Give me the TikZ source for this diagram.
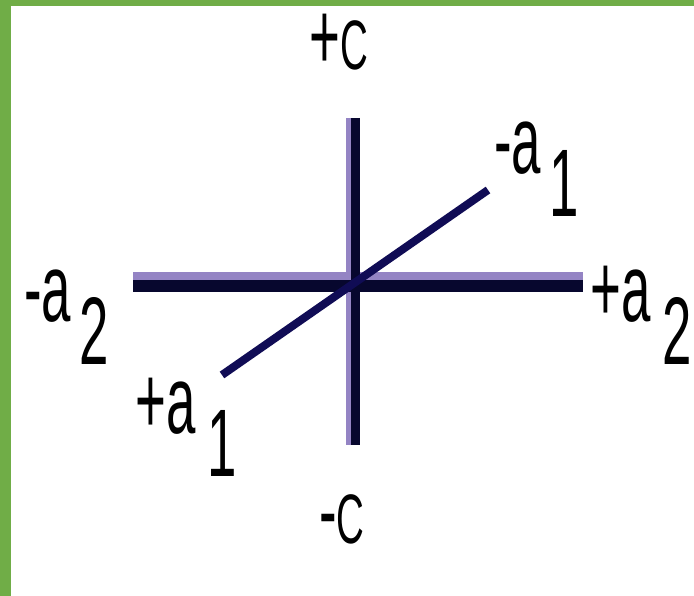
\documentclass[tikz,border=0pt]{standalone}
\usepackage{fontspec}
\newfontfamily\lblfont[FakeStretch=0.55]{Liberation Sans}
\definecolor{frame}{HTML}{70AD47}
\definecolor{axis}{HTML}{07072E}
\definecolor{diag}{HTML}{100C55}
\definecolor{halo}{HTML}{9484C4}
\newcommand{\sub}[2][8pt]{\hspace{#1}\raisebox{-43pt}{#2}}
\newcommand{\capc}{{\fontsize{70}{70}\selectfont C}}

\begin{document}
\begin{tikzpicture}[x=1pt,y=-1pt,
 axisline/.style={line width=12pt,axis},
 vertline/.style={line width=9pt,axis},
 diagline/.style={line width=8pt,diag},
 haloline/.style={halo},
 lbl/.style={inner sep=0pt,anchor=base west,font=\lblfont\fontsize{96}{96}\selectfont}]
 % frame
 \fill[frame] (0,0) rectangle (694,596);
 \fill[white] (11,6) rectangle (694,596);
 \useasboundingbox (0,0) rectangle (694,596);
 % axis ends
 \coordinate (west) at (133,286);
 \coordinate (east) at (583,286);
 \coordinate (top) at (355,118);
 \coordinate (bottom) at (355,445);
 \coordinate (front) at (222,375);
 \coordinate (back) at (488,190);
 % axes
 \draw[haloline,line width=8pt] ([yshift=10pt]west) -- ([yshift=10pt]east);
 \draw[haloline,line width=5pt] ([xshift=-7pt]top) -- ([xshift=-7pt]bottom);
 \draw[vertline] (top) -- (bottom);
 \draw[axisline] (west) -- (east);
 \draw[diagline] (front) -- (back);
 % labels
 \node[lbl] (cpos) at (309,70) {+\capc};
 \node[lbl] (cneg) at (319,543) {-\capc};
 \node[lbl] (a1neg) at (494,174) {-a\sub{1}};
 \node[lbl] (a1pos) at (135,433) {+a\sub[12pt]{1}};
 \node[lbl] (a2neg) at (24,322) {-a\sub{2}};
 \node[lbl] (a2pos) at (590,322) {+a\sub[12pt]{2}};
\end{tikzpicture}
\end{document}
